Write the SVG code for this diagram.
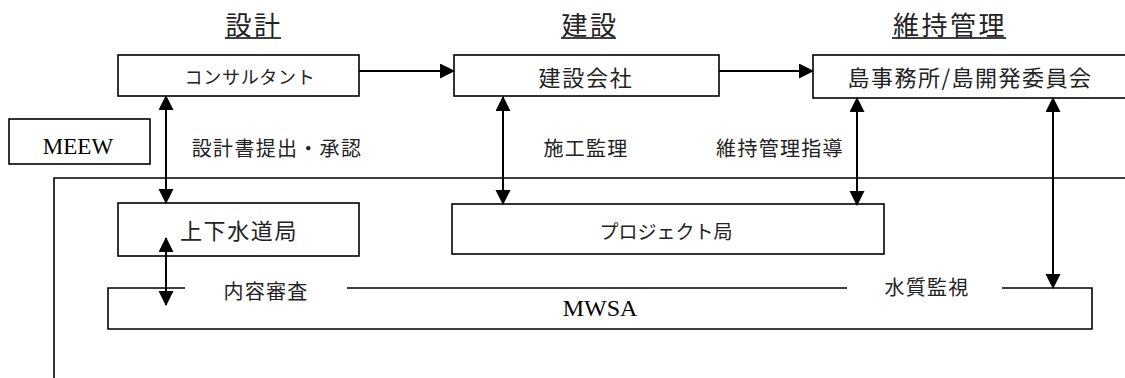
<svg xmlns="http://www.w3.org/2000/svg" width="1125" height="378" viewBox="0 0 1125 378">
<style>
.box{fill:#fff;stroke:#000;stroke-width:1.6}
.ln{fill:none;stroke:#000;stroke-width:1.6}
.ar{fill:none;stroke:#000;stroke-width:2;marker-end:url(#ah);marker-start:url(#ah)}
.ar1{fill:none;stroke:#000;stroke-width:2;marker-end:url(#ah)}
.jp{font-family:"Noto Sans CJK JP","Noto Sans",sans-serif;fill:#222;text-anchor:middle;dominant-baseline:central}
.lat{font-family:"Liberation Serif","Times New Roman",serif;fill:#000;text-anchor:middle}
.ttl{font-size:26px;letter-spacing:2.5px}
.lbl{font-size:20px;letter-spacing:1.3px}
</style>
<defs>
<marker id="ah" markerUnits="userSpaceOnUse" markerWidth="16" markerHeight="16" viewBox="0 0 15 16" refX="14" refY="7.5" orient="auto-start-reverse">
<path d="M0,0 L15,7.5 L0,15 z" fill="#000"/>
</marker>
</defs>
<rect width="1125" height="378" fill="#fff"/>

<g id="titles">
<text class="jp ttl" x="254" y="23">設計</text>
<line class="ln" x1="225" y1="38" x2="281" y2="38"/>
<text class="jp ttl" x="590" y="23">建設</text>
<line class="ln" x1="561" y1="38" x2="616" y2="38"/>
<text class="jp ttl" x="950" y="23">維持管理</text>
<line class="ln" x1="892" y1="38" x2="1006" y2="38"/>
</g>

<g id="boundary">
<path class="ln" d="M54,378 V178 H1126"/>
</g>

<g id="consultant">
<rect class="box" x="118" y="55" width="241" height="41"/>
<text class="jp" x="250" y="75.5" style="font-size:18px;letter-spacing:0.7px">コンサルタント</text>
</g>

<g id="contractor">
<rect class="box" x="454" y="55" width="265" height="41"/>
<text class="jp" x="586" y="75.5" style="font-size:22px;letter-spacing:1.7px">建設会社</text>
</g>

<g id="island">
<rect class="box" x="813" y="55" width="320" height="43"/>
<text class="jp" x="970" y="76" style="font-size:22px;letter-spacing:1.5px">島事務所/島開発委員会</text>
</g>

<g id="meew">
<rect class="box" x="9" y="119" width="141" height="45"/>
<text class="lat" x="78" y="154" style="font-size:23px">MEEW</text>
</g>

<g id="water-dept">
<rect class="box" x="118" y="203" width="241" height="53"/>
<text class="jp" x="239" y="228.5" style="font-size:22px;letter-spacing:1.6px">上下水道局</text>
</g>

<g id="project">
<rect class="box" x="452" y="204" width="432" height="50"/>
<text class="jp" x="666" y="230" style="font-size:19px">プロジェクト局</text>
</g>

<g id="mwsa">
<rect x="108" y="288" width="984" height="41" fill="#fff"/>
<path class="ln" d="M185,288 H108 V329 H1092 V288 H1002 M847,288 H347"/>
<text class="lat" x="600" y="316" style="font-size:24px">MWSA</text>
</g>

<g id="connectors">
<line class="ar1" x1="359" y1="71" x2="454" y2="71"/>
<line class="ar1" x1="719" y1="71" x2="813" y2="71"/>
<line class="ar" x1="166" y1="96" x2="166" y2="203"/>
<line class="ar" x1="166" y1="238" x2="166" y2="305"/>
<line class="ar" x1="503" y1="97" x2="503" y2="204"/>
<line class="ar" x1="857" y1="98" x2="857" y2="205"/>
<line class="ar" x1="1053" y1="98" x2="1053" y2="288"/>
</g>

<g id="labels">
<text class="jp lbl" x="277" y="147">設計書提出・承認</text>
<text class="jp lbl" x="586" y="147">施工監理</text>
<text class="jp lbl" x="780" y="147">維持管理指導</text>
<text class="jp lbl" x="266" y="290">内容審査</text>
<text class="jp lbl" x="927" y="286">水質監視</text>
</g>
</svg>
